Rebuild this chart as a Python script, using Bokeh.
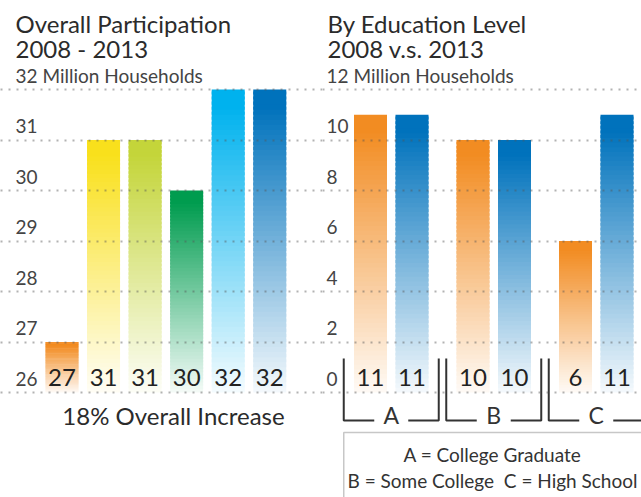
import numpy as np
from bokeh.plotting import figure
from bokeh.layouts import row
from bokeh.models import Range1d, Label, FixedTicker, Grid, BoxAnnotation
from bokeh.core.properties import value
from bokeh.embed import file_html
from bokeh.resources import INLINE

# ---------------- data ----------------
overall_years = ["2008", "2009", "2010", "2011", "2012", "2013"]
overall_values = [27, 31, 31, 30, 32, 32]
overall_colors = ["#F28A1F", "#F9E01C", "#C4D53A", "#009C4F", "#00B2EE", "#0072BC"]
overall_ticks = [26, 27, 28, 29, 30, 31, 32]
overall_tick_labels = ["26", "27", "28", "29", "30", "31", "32 Million Households"]

edu_groups = ["A", "B", "C"]
edu_2008 = [11, 10, 6]
edu_2013 = [11, 10, 11]
edu_color_2008 = "#F28C22"
edu_color_2013 = "#0072BC"
edu_ticks = [0, 2, 4, 6, 8, 10, 12]
edu_tick_labels = ["0", "2", "4", "6", "8", "10", "12 Million Households"]
edu_legend = ["A = College Graduate", "B = Some College \u00a0C = High School"]

FONT = "Lato"
DARK = "#2b2b2b"
H = 497
W_L, W_R = 322, 319

# ---------------- helpers ----------------
def mix(hexc, f):
    r, g, b = int(hexc[1:3], 16), int(hexc[3:5], 16), int(hexc[5:7], 16)
    return "#%02x%02x%02x" % tuple(int(round(255 + (c - 255) * f)) for c in (r, g, b))


def gradient_bars(p, centers, values, base, colors, width, n=60):
    lefts, rights, bottoms, tops, fills = [], [], [], [], []
    for c, v, col in zip(centers, values, colors):
        step = (v - base) / n
        for k in range(n):
            t = (k + 0.5) / n
            f = min(1.0, 0.04 + 1.02 * t)
            lefts.append(c - width / 2)
            rights.append(c + width / 2)
            bottoms.append(base + k * step)
            tops.append(base + (k + 1) * step + (0.6 * step if k < n - 1 else 0))
            fills.append(mix(col, f))
    p.quad(left=lefts, right=rights, bottom=bottoms, top=tops,
           fill_color=fills, line_color=None)


def make_fig(width, xr, yr):
    p = figure(width=width, height=H, x_range=xr, y_range=yr,
               output_backend="svg", toolbar_location=None,
               x_axis_location=None, y_axis_location=None,
               min_border=0, title=None)
    p.outline_line_color = None
    p.grid.visible = False
    return p


def add_grid(p, ticks):
    p.add_layout(Grid(dimension=1, ticker=FixedTicker(ticks=ticks),
                      grid_line_color="#555555", grid_line_alpha=0.45,
                      grid_line_dash="2 6", grid_line_width=2, level="overlay"))


def add_tick_labels(p, xr, ticks, labels, xoff):
    p.text(x=[xr.start] * len(ticks), y=ticks, text=labels,
           x_offset=xoff, y_offset=-14, text_align="left",
           text_baseline="alphabetic", text_font=value(FONT),
           text_font_size="19px", text_color="#444444")


def screen_label(p, x, y, text, size, color=DARK, align="left"):
    p.add_layout(Label(x=x, y=y, x_units="screen", y_units="screen", text=text,
                       text_font=FONT, text_font_size=size, text_color=color,
                       text_align=align, text_baseline="alphabetic"))


# ---------------- left panel ----------------
L_UNIT = 41.55
lx0 = -61.5 / L_UNIT
lxr = Range1d(lx0, lx0 + W_L / L_UNIT)
lk = 50.5
lyr = Range1d(26 - (H - 392) / lk, 32 + 89 / lk)
left = make_fig(W_L, lxr, lyr)

l_centers = list(range(len(overall_values)))
gradient_bars(left, l_centers, overall_values, 26, overall_colors, 33 / L_UNIT)
add_grid(left, overall_ticks)
add_tick_labels(left, lxr, overall_ticks, overall_tick_labels, 15)
left.text(x=l_centers, y=[26] * len(l_centers), text=[str(v) for v in overall_values],
          y_offset=-15, text_align="center", text_baseline="alphabetic",
          text_font=value(FONT), text_font_size="24px", text_color="#222222")

screen_label(left, 15, H - 23, "Overall Participation", "24px")
screen_label(left, 15, H - 48, "2008 - 2013", "24px")
screen_label(left, 173, H - 415, "18% Overall Increase", "24px", align="center")

# ---------------- right panel ----------------
R_UNIT = 41.5
STRIDE = 102.5 / R_UNIT
rx0 = -(370 - W_L) / R_UNIT
rxr = Range1d(rx0, rx0 + W_R / R_UNIT)
rk = 25.25
ryr = Range1d(0 - (H - 392) / rk, 12 + 89 / rk)
right = make_fig(W_R, rxr, ryr)

c08 = [g * STRIDE for g in range(len(edu_groups))]
c13 = [g * STRIDE + 1 for g in range(len(edu_groups))]
bw = 33 / R_UNIT
gradient_bars(right, c08, edu_2008, 0, [edu_color_2008] * 3, bw)
gradient_bars(right, c13, edu_2013, 0, [edu_color_2013] * 3, bw)
add_grid(right, edu_ticks)
add_tick_labels(right, rxr, edu_ticks, edu_tick_labels, 326 - W_L)
right.text(x=c08 + c13, y=[0] * 6, text=[str(v) for v in edu_2008 + edu_2013],
           y_offset=-15, text_align="center", text_baseline="alphabetic",
           text_font=value(FONT), text_font_size="24px", text_color="#222222")

# group brackets
gc = [g * STRIDE + 0.5 for g in range(len(edu_groups))]
half = 47.5 / R_UNIT
gap = 17 / R_UNIT
ytop, ybot = 34 / rk, -28 / rk
xs, ys = [], []
for c in gc:
    xs += [[c - half, c - half, c - gap], [c + gap, c + half, c + half]]
    ys += [[ytop, ybot, ybot], [ybot, ybot, ytop]]
right.multi_line(xs=xs, ys=ys, line_color="#333333", line_width=2)
right.text(x=gc, y=[ybot] * 3, text=edu_groups, y_offset=-6, text_align="center",
           text_baseline="alphabetic", text_font=value(FONT),
           text_font_size="23px", text_color="#333333")

right.add_layout(BoxAnnotation(left=gc[0] - half, top=-40 / rk, right=rxr.end + 2,
                               bottom=ryr.start - 2, fill_alpha=0,
                               line_color="#444444", line_width=1.5))

screen_label(right, 327 - W_L, H - 23, "By Education Level", "24px")
screen_label(right, 327 - W_L, H - 48, "2008 v.s. 2013", "24px")
screen_label(right, 492 - W_L, H - 454, edu_legend[0], "19px", color="#333333", align="center")
screen_label(right, 492 - W_L, H - 480, edu_legend[1], "19px", color="#333333", align="center")

layout = row(left, right)
open("out.html", "w").write(file_html(layout, INLINE))
